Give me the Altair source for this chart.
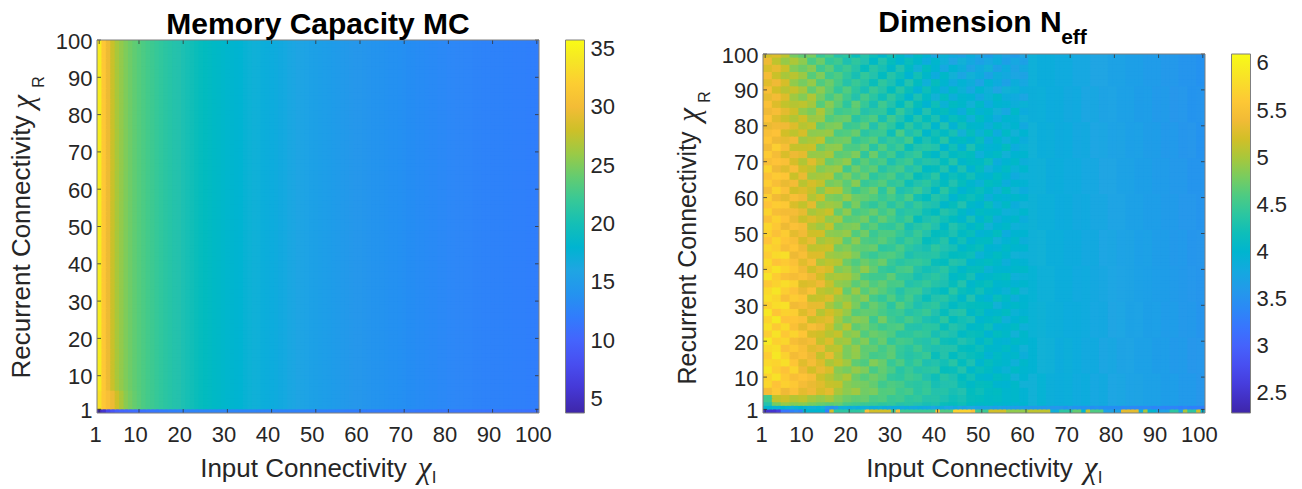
import altair as alt
import pandas as pd

inputs = list(range(1, 101))
recurrents = list(range(1, 101))
x_ticks = [1, 10, 20, 30, 40, 50, 60, 70, 80, 90, 100]
y_ticks = [1, 10, 20, 30, 40, 50, 60, 70, 80, 90, 100]

mc_by_input = [34.5, 31.5, 29.5, 27.8, 26.5, 25.7, 25.0, 24.4, 23.9, 23.5,
               23.1, 22.7, 22.4, 22.0, 21.7, 21.4, 21.1, 20.8, 20.6, 20.3,
               20.1, 19.9, 19.7, 19.5, 19.3, 19.1, 18.9, 18.7, 18.5, 18.3,
               18.2, 18.0, 17.9, 17.7, 17.6, 17.4, 17.3, 17.1, 17.0, 16.8,
               16.7, 16.5, 16.4, 16.2, 16.1, 15.9, 15.8, 15.7, 15.5, 15.4,
               15.3, 15.2, 15.1, 15.0, 14.9, 14.8, 14.7, 14.6, 14.5, 14.4,
               14.3, 14.2, 14.1, 14.1, 14.0, 13.9, 13.8, 13.8, 13.7, 13.6,
               13.5, 13.5, 13.4, 13.4, 13.3, 13.2, 13.2, 13.1, 13.1, 13.0,
               13.0, 12.9, 12.9, 12.8, 12.8, 12.7, 12.7, 12.6, 12.6, 12.5,
               12.5, 12.5, 12.4, 12.4, 12.3, 12.3, 12.3, 12.2, 12.2, 12.1]
mc_rows_2_to_6 = [33.5, 31.5, 30.5, 29.5, 28.0, 26.6, 25.4, 24.7, 24.1, 23.6]
mc_row_1 = [4.5, 5.5, 7.5, 8.5, 9.5, 10.0, 10.2, 10.4, 10.6, 10.8,
            11.0, 11.2, 11.4, 11.6, 11.8, 12.0, 12.1, 12.2, 12.3, 12.4,
            12.5, 12.6, 12.7, 12.7, 12.7, 12.7, 12.7, 12.7, 12.7, 12.7,
            12.7, 12.7, 12.6, 12.6, 12.6, 12.6, 12.5, 12.5, 12.5, 12.5,
            12.4, 12.4, 12.4, 12.4, 12.3, 12.3, 12.3, 12.3, 12.2, 12.2,
            12.2, 12.2, 12.1, 12.1, 12.1, 12.1, 12.0, 12.0, 12.0, 12.0,
            11.9, 11.9, 11.9, 11.9, 11.8, 11.8, 11.8, 11.8, 11.7, 11.7,
            11.7, 11.7, 11.6, 11.6, 11.6, 11.6, 11.5, 11.5, 11.5, 11.5,
            11.4, 11.4, 11.4, 11.4, 11.3, 11.3, 11.3, 11.3, 11.2, 11.2,
            11.2, 11.2, 11.2, 11.1, 11.1, 11.1, 11.1, 11.0, 11.0, 11.0]

# Dimension at recurrent connectivity 1 and 2, read along the bottom rows
neff_row_1 = [2.5, 2.5, 2.5, 2.6, 3.2, 3.2, 3.3, 3.4, 3.3, 4.0,
              4.0, 4.0, 4.0, 4.0, 3.3, 5.2, 4.4, 4.4, 4.4, 4.4,
              4.4, 4.4, 4.5, 5.5, 5.2, 5.2, 5.2, 5.2, 5.2, 4.5,
              5.5, 4.5, 4.5, 4.5, 4.5, 4.5, 4.5, 4.5, 4.5, 5.5,
              4.6, 4.6, 4.6, 5.7, 5.7, 5.7, 5.7, 5.5, 4.5, 4.5,
              4.5, 5.2, 5.2, 5.2, 5.2, 4.9, 4.9, 4.9, 4.9, 4.9,
              5.1, 5.1, 5.1, 5.1, 5.1, 3.9, 3.9, 4.4, 4.4, 4.4,
              4.7, 4.7, 4.0, 5.1, 4.6, 4.6, 4.6, 3.7, 3.7, 3.7,
              3.7, 5.3, 5.3, 5.3, 5.3, 3.9, 5.0, 4.0, 4.0, 3.7,
              3.7, 3.7, 4.4, 4.4, 3.7, 5.0, 4.4, 4.4, 5.2, 4.0]
neff_row_2 = [4.0, 4.0, 3.95, 3.95, 4.0, 3.95, 3.9, 3.95, 4.0, 3.95,
              3.9, 3.9, 3.95, 3.9, 3.6, 3.5, 3.55, 3.9, 3.9, 3.85,
              3.9, 3.85, 3.9, 3.9, 3.85, 3.85, 3.9, 3.85, 3.8, 3.85,
              3.85, 3.8, 3.85, 3.8, 3.8, 3.85, 3.8, 3.8, 3.75, 3.8,
              3.8, 3.75, 3.75, 3.8, 3.75, 3.7, 3.75, 3.75, 3.7, 3.7,
              3.7, 3.7, 3.65, 3.7, 3.65, 3.65, 3.65, 3.6, 3.65, 3.6,
              3.6, 3.6, 3.6, 3.55, 3.6, 3.55, 3.55, 3.55, 3.5, 3.55,
              3.5, 3.5, 3.5, 3.5, 3.45, 3.5, 3.45, 3.45, 3.45, 3.45,
              3.45, 3.4, 3.45, 3.4, 3.4, 3.4, 3.4, 3.4, 3.35, 3.4,
              3.35, 3.35, 3.35, 3.35, 3.3, 3.35, 3.3, 3.3, 3.3, 3.3]

# Dimension in hundredths: bands of two recurrent rows (3 first, then 4-5, ... 100 last),
# cells of two input columns, input 1-60
neff_bands = [
    [430, 478, 492, 484, 486, 478, 472, 466, 470, 456, 452, 448, 446, 440, 444, 432, 436, 428, 424, 426, 418, 416, 420, 410, 406, 408, 402, 400, 396, 398],
    [452, 512, 518, 506, 510, 498, 492, 500, 484, 474, 468, 472, 458, 462, 448, 452, 440, 444, 432, 434, 426, 420, 424, 416, 414, 408, 410, 402, 404, 396],
    [542, 560, 538, 552, 530, 538, 522, 530, 500, 488, 496, 476, 480, 462, 464, 450, 456, 438, 446, 430, 434, 424, 428, 414, 420, 410, 412, 402, 404, 396],
    [574, 556, 568, 560, 544, 534, 528, 514, 512, 486, 480, 478, 470, 452, 460, 456, 442, 438, 444, 424, 428, 430, 418, 408, 416, 414, 400, 398, 406, 392],
    [570, 584, 562, 548, 556, 546, 518, 506, 492, 502, 474, 464, 476, 466, 444, 440, 452, 446, 428, 420, 436, 426, 412, 422, 404, 400, 412, 406, 392, 398],
    [588, 566, 554, 572, 538, 520, 534, 524, 486, 478, 492, 482, 456, 470, 458, 436, 448, 432, 438, 442, 416, 418, 430, 406, 418, 410, 398, 394, 408, 400],
    [576, 572, 582, 558, 528, 544, 526, 500, 510, 496, 468, 460, 484, 472, 446, 460, 438, 450, 426, 430, 422, 436, 414, 426, 402, 416, 406, 402, 390, 404],
    [564, 590, 570, 542, 552, 536, 512, 532, 502, 480, 490, 470, 454, 458, 468, 444, 434, 440, 448, 418, 432, 412, 424, 418, 412, 396, 410, 400, 404, 388],
    [578, 582, 552, 562, 548, 528, 534, 508, 510, 480, 492, 468, 470, 454, 466, 446, 438, 452, 434, 426, 432, 430, 416, 412, 420, 404, 402, 410, 398, 392],
    [592, 568, 574, 546, 536, 544, 512, 526, 494, 498, 472, 484, 458, 472, 444, 456, 452, 436, 430, 444, 420, 418, 428, 422, 404, 418, 400, 396, 408, 402],
    [566, 586, 560, 572, 558, 522, 518, 506, 514, 484, 490, 462, 474, 468, 460, 438, 440, 448, 444, 424, 434, 426, 410, 418, 416, 398, 414, 406, 392, 404],
    [584, 562, 578, 550, 530, 548, 536, 516, 488, 506, 468, 476, 462, 450, 458, 462, 434, 430, 440, 438, 418, 432, 424, 406, 410, 420, 396, 402, 410, 390],
    [572, 592, 556, 558, 552, 516, 524, 530, 498, 476, 488, 482, 450, 478, 452, 442, 456, 444, 426, 422, 440, 414, 422, 426, 402, 408, 416, 390, 398, 406],
    [590, 558, 570, 566, 526, 540, 506, 520, 508, 492, 464, 470, 468, 456, 446, 450, 432, 440, 448, 428, 416, 428, 434, 408, 418, 400, 404, 412, 394, 396],
    [568, 580, 584, 540, 546, 532, 532, 500, 484, 504, 480, 456, 472, 460, 438, 464, 446, 426, 436, 442, 424, 410, 420, 416, 414, 412, 392, 400, 406, 400],
    [582, 574, 548, 564, 558, 512, 516, 526, 496, 488, 474, 486, 454, 444, 462, 440, 454, 434, 418, 430, 436, 422, 406, 428, 404, 396, 418, 408, 388, 398],
    [576, 588, 566, 554, 534, 550, 510, 504, 516, 470, 494, 464, 476, 464, 450, 432, 448, 450, 428, 420, 412, 438, 418, 410, 422, 406, 398, 394, 412, 392],
    [560, 570, 580, 570, 524, 528, 538, 514, 490, 486, 466, 478, 460, 470, 456, 458, 430, 438, 446, 434, 426, 416, 430, 404, 412, 418, 402, 404, 396, 402],
    [586, 564, 550, 544, 552, 538, 520, 498, 502, 500, 484, 458, 452, 452, 468, 444, 442, 424, 432, 440, 430, 408, 414, 424, 398, 404, 410, 414, 390, 394],
    [570, 584, 572, 560, 540, 518, 530, 522, 482, 490, 472, 490, 470, 446, 440, 454, 458, 432, 422, 426, 438, 420, 406, 416, 416, 394, 400, 398, 404, 406],
    [578, 556, 562, 552, 528, 544, 502, 510, 506, 474, 460, 474, 464, 474, 448, 436, 444, 446, 440, 418, 414, 432, 426, 402, 408, 414, 406, 388, 400, 396],
    [564, 578, 582, 536, 548, 526, 526, 496, 492, 496, 482, 456, 446, 458, 462, 452, 426, 436, 434, 436, 422, 412, 416, 420, 394, 402, 412, 402, 392, 390],
    [574, 566, 546, 558, 536, 510, 514, 518, 478, 484, 470, 468, 472, 440, 444, 458, 440, 428, 424, 442, 428, 424, 404, 412, 418, 398, 396, 408, 400, 400],
    [556, 572, 558, 548, 522, 534, 498, 506, 500, 466, 488, 460, 456, 466, 452, 434, 450, 442, 416, 420, 434, 406, 422, 400, 410, 412, 392, 396, 406, 388],
    [568, 552, 564, 530, 540, 518, 520, 488, 486, 492, 462, 476, 448, 460, 460, 446, 432, 448, 430, 414, 418, 426, 410, 418, 396, 402, 414, 384, 398, 398],
    [574, 560, 536, 552, 544, 506, 496, 512, 474, 480, 484, 454, 466, 444, 442, 456, 424, 436, 444, 428, 408, 430, 420, 404, 414, 392, 400, 406, 390, 394],
    [550, 568, 556, 534, 516, 526, 514, 490, 498, 464, 468, 478, 450, 470, 454, 438, 452, 416, 426, 436, 422, 412, 402, 424, 400, 416, 388, 398, 404, 386],
    [570, 546, 542, 544, 532, 500, 508, 516, 470, 488, 456, 462, 472, 452, 464, 430, 440, 438, 420, 412, 432, 424, 408, 396, 412, 406, 404, 390, 394, 402],
    [556, 564, 560, 524, 512, 530, 490, 496, 492, 458, 480, 452, 442, 458, 436, 452, 428, 446, 432, 426, 404, 416, 428, 406, 398, 418, 394, 408, 386, 392],
    [566, 540, 530, 548, 538, 504, 516, 482, 478, 494, 474, 470, 462, 446, 456, 440, 458, 422, 414, 434, 424, 400, 414, 420, 410, 388, 402, 396, 404, 398],
    [544, 570, 552, 520, 526, 514, 486, 508, 504, 472, 450, 464, 476, 438, 468, 426, 436, 450, 428, 408, 438, 418, 398, 408, 418, 404, 390, 412, 392, 384],
    [564, 548, 534, 542, 508, 522, 512, 478, 484, 466, 486, 446, 454, 464, 442, 448, 420, 430, 440, 424, 412, 428, 416, 402, 394, 414, 408, 386, 400, 396],
    [552, 562, 558, 516, 534, 496, 500, 504, 468, 482, 460, 472, 440, 452, 460, 434, 446, 416, 422, 438, 406, 420, 410, 422, 404, 398, 412, 400, 382, 390],
    [570, 538, 528, 546, 518, 510, 484, 492, 496, 452, 476, 458, 468, 434, 448, 456, 428, 442, 410, 416, 430, 402, 426, 398, 416, 392, 396, 410, 394, 402],
    [548, 556, 550, 522, 504, 528, 506, 472, 480, 490, 448, 466, 450, 458, 426, 444, 452, 424, 434, 428, 414, 434, 404, 412, 408, 420, 386, 398, 406, 388],
    [562, 544, 524, 536, 530, 492, 494, 500, 466, 470, 482, 442, 474, 442, 454, 424, 438, 446, 418, 406, 426, 410, 418, 414, 390, 402, 410, 392, 398, 400],
    [540, 566, 546, 514, 514, 516, 476, 488, 490, 460, 458, 470, 436, 462, 438, 450, 418, 432, 438, 430, 400, 422, 396, 426, 406, 396, 398, 414, 384, 394],
    [558, 536, 532, 540, 496, 502, 510, 468, 474, 478, 444, 454, 464, 430, 446, 436, 454, 412, 426, 416, 436, 404, 412, 400, 418, 386, 404, 390, 402, 386],
    [548, 554, 520, 510, 522, 488, 490, 494, 458, 462, 472, 438, 448, 450, 420, 458, 426, 440, 404, 422, 410, 424, 392, 416, 394, 412, 384, 408, 392, 398],
    [534, 540, 538, 526, 506, 512, 470, 480, 484, 448, 452, 466, 428, 456, 440, 416, 442, 420, 430, 402, 428, 396, 420, 404, 402, 388, 406, 394, 400, 380],
    [556, 528, 516, 504, 518, 494, 496, 462, 470, 474, 436, 450, 460, 424, 452, 430, 410, 434, 414, 426, 398, 418, 408, 390, 412, 398, 382, 400, 396, 392],
    [538, 546, 530, 518, 490, 480, 502, 476, 450, 456, 462, 432, 442, 444, 418, 446, 424, 404, 428, 408, 416, 400, 386, 414, 396, 404, 392, 378, 406, 384],
    [550, 526, 512, 506, 510, 498, 464, 486, 466, 440, 470, 446, 424, 452, 432, 412, 438, 416, 398, 420, 394, 412, 404, 392, 408, 384, 400, 396, 388, 394],
    [532, 542, 526, 496, 484, 504, 478, 456, 472, 452, 430, 456, 438, 420, 442, 422, 402, 426, 410, 392, 414, 388, 402, 398, 380, 394, 406, 386, 382, 376],
    [546, 520, 508, 514, 500, 470, 488, 468, 444, 462, 440, 424, 448, 434, 414, 436, 418, 396, 420, 404, 386, 408, 394, 378, 400, 390, 374, 392, 394, 386],
    [528, 538, 522, 490, 478, 492, 460, 474, 454, 432, 448, 436, 418, 442, 426, 406, 430, 412, 390, 416, 400, 382, 396, 388, 372, 396, 384, 368, 386, 378],
    [542, 516, 500, 508, 494, 464, 482, 450, 460, 442, 424, 444, 430, 412, 434, 420, 398, 422, 404, 384, 406, 392, 376, 392, 386, 370, 388, 380, 376, 372],
    [524, 532, 516, 484, 474, 486, 452, 466, 438, 450, 434, 416, 436, 424, 406, 428, 410, 392, 414, 398, 378, 398, 388, 372, 382, 392, 368, 384, 372, 380],
    [536, 510, 492, 502, 488, 458, 474, 444, 452, 426, 442, 428, 408, 430, 416, 400, 418, 404, 384, 402, 390, 374, 392, 380, 368, 378, 386, 366, 378, 368],
    [520, 526, 510, 478, 468, 480, 446, 458, 432, 440, 418, 434, 420, 402, 422, 408, 390, 410, 396, 376, 394, 382, 370, 386, 376, 364, 380, 372, 362, 374],
]

# Dimension in hundredths: bands of ten recurrent rows, cells of two input columns, input 61-100
neff_far = [
    [392, 395, 388, 386, 387, 382, 384, 378, 380, 375, 376, 371, 372, 368, 369, 364, 365, 360, 360, 356],
    [396, 392, 391, 385, 388, 384, 380, 381, 376, 377, 372, 373, 368, 369, 364, 365, 360, 361, 356, 357],
    [394, 393, 389, 388, 384, 385, 382, 378, 379, 374, 375, 370, 371, 366, 367, 362, 363, 358, 359, 354],
    [395, 390, 390, 386, 386, 381, 382, 379, 377, 375, 373, 372, 369, 367, 365, 364, 361, 359, 357, 355],
    [391, 392, 387, 387, 383, 383, 379, 380, 375, 376, 371, 372, 367, 368, 363, 364, 359, 360, 355, 356],
    [393, 389, 389, 384, 385, 380, 381, 377, 377, 373, 373, 369, 369, 365, 365, 361, 361, 357, 357, 353],
    [390, 391, 385, 386, 382, 382, 378, 378, 374, 374, 370, 370, 366, 366, 362, 362, 358, 358, 354, 354],
    [392, 387, 388, 383, 384, 379, 380, 375, 376, 371, 372, 367, 368, 363, 364, 359, 360, 355, 356, 351],
    [388, 389, 384, 385, 380, 381, 376, 377, 372, 373, 368, 369, 364, 365, 360, 361, 356, 357, 352, 353],
    [390, 386, 386, 382, 382, 378, 378, 374, 374, 370, 370, 366, 366, 362, 362, 358, 358, 354, 354, 350],
]

mc_legend_values = [5, 10, 15, 20, 25, 30, 35]
neff_legend_values = [2.5, 3, 3.5, 4, 4.5, 5, 5.5, 6]
mc_span = [3.8, 35.75]
neff_span = [2.29, 6.10]

parula_rgb = [
    (0.2422, 0.1504, 0.6603), (0.2647, 0.1978, 0.7952), (0.2783, 0.2559, 0.8991),
    (0.2810, 0.3228, 0.9579), (0.2699, 0.3892, 0.9906), (0.2206, 0.4603, 0.9973),
    (0.1786, 0.5289, 0.9682), (0.1540, 0.5902, 0.9218), (0.1248, 0.6459, 0.8883),
    (0.0689, 0.6948, 0.8394), (0.0067, 0.7308, 0.7660), (0.1408, 0.7584, 0.6842),
    (0.2161, 0.7843, 0.5923), (0.3406, 0.8008, 0.4789), (0.5044, 0.7993, 0.3480),
    (0.6720, 0.7793, 0.2227), (0.8203, 0.7498, 0.1535), (0.9393, 0.7288, 0.2100),
    (0.9970, 0.7659, 0.2199), (0.9786, 0.8386, 0.1766), (0.9597, 0.9135, 0.1423),
    (0.9769, 0.9839, 0.0805)]
parula = ["#%02x%02x%02x" % tuple(round(c * 255) for c in rgb) for rgb in parula_rgb]

FONT = "Liberation Sans"
MATH = "Liberation Serif"
INK = "#262626"
FRAME = "#7f7f7f"
W, H = 442, 373


def cells(table):
    rows = []
    for r, row in zip(recurrents, table):
        for i, v in zip(inputs, row):
            rows.append({"x0": i - 0.5, "x1": min(i + 0.8, 100.5), "y0": r - 1, "y1": min(r + 0.35, 100), "v": v})
    return pd.DataFrame(rows)


def note(text, pos, **style):
    return alt.Chart(pd.DataFrame({"t": [text]})).mark_text(
        align="center", baseline="middle", **style
    ).encode(text="t:N", x=alt.value(pos[0]), y=alt.value(pos[1]))


def panel(table, span, legend_values, title, title_dx, title_offset, top, y_size, y_title_y,
          chi_y, sub_y, extra):
    stops = [span[0] + (span[1] - span[0]) * i / (len(parula) - 1) for i in range(len(parula))]
    xs = alt.Scale(domain=[0.5, 100.5], nice=False, zero=False)
    ys = alt.Scale(domain=[0, 100], range=[H, top], nice=False, zero=False)
    xa = alt.Axis(values=x_ticks, title="Input Connectivity", domain=False, ticks=False, grid=False,
                  labelFont=FONT, labelFontSize=22, labelColor=INK, labelPadding=11, labelOffset=-4,
                  titleFont=FONT, titleFontSize=26, titleFontWeight="normal", titleColor=INK,
                  titleX=206, titleY=42)
    ya = alt.Axis(values=y_ticks, title="Recurrent Connectivity", domain=False, ticks=False, grid=False,
                  labelFont=FONT, labelFontSize=22, labelColor=INK, labelPadding=5, labelOffset=1,
                  titleFont=FONT, titleFontSize=y_size, titleFontWeight="normal", titleColor=INK,
                  titleX=-63, titleY=y_title_y)
    heat = alt.Chart(cells(table)).mark_rect(strokeWidth=0, clip=True).encode(
        x=alt.X("x0:Q", scale=xs, axis=xa),
        x2="x1:Q",
        y=alt.Y("y0:Q", scale=ys, axis=ya),
        y2="y1:Q",
        color=alt.Color("v:Q", scale=alt.Scale(domain=stops, range=parula), legend=alt.Legend(
            title=None, orient="none", legendX=468.5, legendY=top, direction="vertical",
            gradientLength=H - top, gradientThickness=19, gradientStrokeColor=FRAME, gradientStrokeWidth=1,
            values=legend_values, format="~g", labelFont=FONT, labelFontSize=22, labelColor=INK,
            labelOverlap=False, labelOffset=6)),
    )
    tick_x = pd.DataFrame({"t": x_ticks})
    tick_y = pd.DataFrame({"t": y_ticks})
    xt = alt.X("t:Q", scale=xs, axis=xa)
    yt = alt.Y("t:Q", scale=ys, axis=ya)
    layers = [heat]
    for a, b in ((H, H - 4), (top, top + 4)):
        layers.append(alt.Chart(tick_x).mark_rule(color="#333333", strokeWidth=0.8).encode(
            x=xt, y=alt.value(a), y2=alt.value(b)))
    for a, b in ((0, 4), (W, W - 4)):
        layers.append(alt.Chart(tick_y).mark_rule(color="#333333", strokeWidth=0.8).encode(
            y=yt, x=alt.value(a), x2=alt.value(b)))
    bar_ticks = pd.DataFrame({"t": [(v - span[0]) / (span[1] - span[0]) * 100 for v in legend_values]})
    layers.append(alt.Chart(bar_ticks).mark_rule(color="#333333", strokeWidth=0.8).encode(
        y=yt, x=alt.value(484), x2=alt.value(487.5)))
    frame = pd.DataFrame({"a": [0.5], "b": [100.5], "c": [0], "d": [100]})
    layers.append(alt.Chart(frame).mark_rect(filled=False, stroke=FRAME, strokeWidth=1).encode(
        x=alt.X("a:Q", scale=xs, axis=xa), x2="b:Q", y=alt.Y("c:Q", scale=ys, axis=ya), y2="d:Q"))
    layers.append(note("χ", (327.5, 429), font=MATH, fontStyle="italic", fontSize=31, color=INK))
    layers.append(note("I", (337, 438), font=FONT, fontSize=17, color=INK))
    layers.append(note("χ", (-73, chi_y), font=MATH, fontStyle="italic", fontSize=31, color=INK, angle=270))
    layers.append(note("R", (-58.5, sub_y), font=FONT, fontSize=16, color=INK, angle=270))
    layers.extend(extra)
    return alt.layer(*layers).properties(
        width=W, height=H,
        title=alt.TitleParams(text=title, font=FONT, fontSize=30, fontWeight="bold", color="#000000",
                              anchor="middle", dx=title_dx, offset=title_offset),
    )


mc_table = [mc_row_1] + [mc_rows_2_to_6 + mc_by_input[10:]] * 5 + [mc_by_input] * 94
neff_table = [neff_row_1, neff_row_2]
for y in recurrents[2:]:
    near = neff_bands[min((y - 2) // 2, len(neff_bands) - 1)]
    far = neff_far[min((y - 2) // 10, len(neff_far) - 1)]
    row = []
    for x in inputs:
        source = near[(x - 1) // 2] if x <= 60 else far[(x - 61) // 2]
        row.append(source / 100)
    neff_table.append(row)

left = panel(mc_table, mc_span, mc_legend_values, "Memory Capacity MC", 0, -10, 0, 26, 206.5, 62, 42, [])
eff = note("eff", (311, -2), font=FONT, fontSize=21, fontWeight="bold", color="#000000")
right = panel(neff_table, neff_span, neff_legend_values, "Dimension N", -14, -11, 14, 25, 217.5, 75, 57, [eff])

chart = (alt.hconcat(left, right, spacing=58)
         .resolve_scale(color="independent")
         .properties(padding=0)
         .configure_view(stroke=None))
chart.save("out.html", embed_options={"renderer": "svg", "actions": False})
